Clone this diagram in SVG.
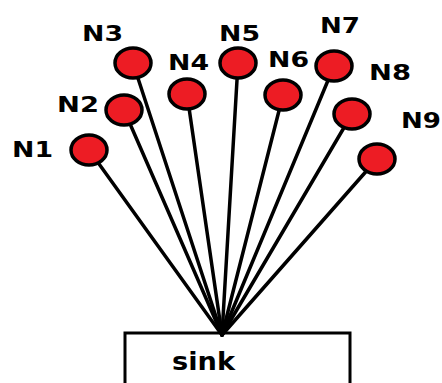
<svg xmlns="http://www.w3.org/2000/svg" width="442" height="383" viewBox="0 0 442 383">
  <style>
    .link { stroke: #000; stroke-width: 3.5; fill: none; stroke-linecap: round; }
    .node circle, .node ellipse { fill: #ED1C24; stroke: #000; stroke-width: 3.5; }
    .lbl { font-family: "DejaVu Sans", Verdana, sans-serif; font-weight: bold; font-size: 22px; fill: #000; }
    .sink rect { fill: #fff; stroke: #000; stroke-width: 3; }
    .sink text { font-family: "DejaVu Sans", Verdana, sans-serif; font-weight: bold; font-size: 24px; fill: #000; }
  </style>
  <rect width="442" height="383" fill="#fff"/>

  <!-- sink box (runs off the bottom edge) -->
  <g id="sink" class="sink">
    <rect x="125" y="333" width="225" height="70"/>
    <text x="172" y="370" textLength="63" lengthAdjust="spacingAndGlyphs">sink</text>
  </g>

  <!-- links from every sensor node to the sink -->
  <g id="connectors">
    <line class="link" x1="89" y1="150" x2="222" y2="335"/>
    <line class="link" x1="124" y1="110" x2="222" y2="335"/>
    <line class="link" x1="133" y1="63" x2="222" y2="335"/>
    <line class="link" x1="187" y1="94" x2="222" y2="335"/>
    <line class="link" x1="238" y1="63" x2="222" y2="335"/>
    <line class="link" x1="283" y1="95" x2="222" y2="335"/>
    <line class="link" x1="334" y1="66" x2="222" y2="335"/>
    <line class="link" x1="352" y1="114" x2="222" y2="335"/>
    <line class="link" x1="377" y1="159" x2="222" y2="335"/>
  </g>

  <g id="N1" class="node">
    <ellipse cx="89" cy="150" rx="18" ry="15"/>
    <text class="lbl" x="12" y="157" textLength="41" lengthAdjust="spacingAndGlyphs">N1</text>
  </g>
  <g id="N2" class="node">
    <ellipse cx="124" cy="110" rx="18" ry="15"/>
    <text class="lbl" x="57" y="112" textLength="42" lengthAdjust="spacingAndGlyphs">N2</text>
  </g>
  <g id="N3" class="node">
    <ellipse cx="133" cy="63" rx="18" ry="15"/>
    <text class="lbl" x="82" y="41" textLength="41" lengthAdjust="spacingAndGlyphs">N3</text>
  </g>
  <g id="N4" class="node">
    <ellipse cx="187" cy="94" rx="18" ry="15"/>
    <text class="lbl" x="168" y="70" textLength="41" lengthAdjust="spacingAndGlyphs">N4</text>
  </g>
  <g id="N5" class="node">
    <ellipse cx="238" cy="63" rx="18" ry="15"/>
    <text class="lbl" x="219" y="41" textLength="41" lengthAdjust="spacingAndGlyphs">N5</text>
  </g>
  <g id="N6" class="node">
    <ellipse cx="283" cy="95" rx="18" ry="15"/>
    <text class="lbl" x="268" y="67" textLength="41" lengthAdjust="spacingAndGlyphs">N6</text>
  </g>
  <g id="N7" class="node">
    <ellipse cx="334" cy="66" rx="18" ry="15"/>
    <text class="lbl" x="320" y="33" textLength="40" lengthAdjust="spacingAndGlyphs">N7</text>
  </g>
  <g id="N8" class="node">
    <ellipse cx="352" cy="114" rx="18" ry="15"/>
    <text class="lbl" x="369" y="80" textLength="42" lengthAdjust="spacingAndGlyphs">N8</text>
  </g>
  <g id="N9" class="node">
    <ellipse cx="377" cy="159" rx="18" ry="15"/>
    <text class="lbl" x="401" y="128" textLength="40" lengthAdjust="spacingAndGlyphs">N9</text>
  </g>
</svg>
